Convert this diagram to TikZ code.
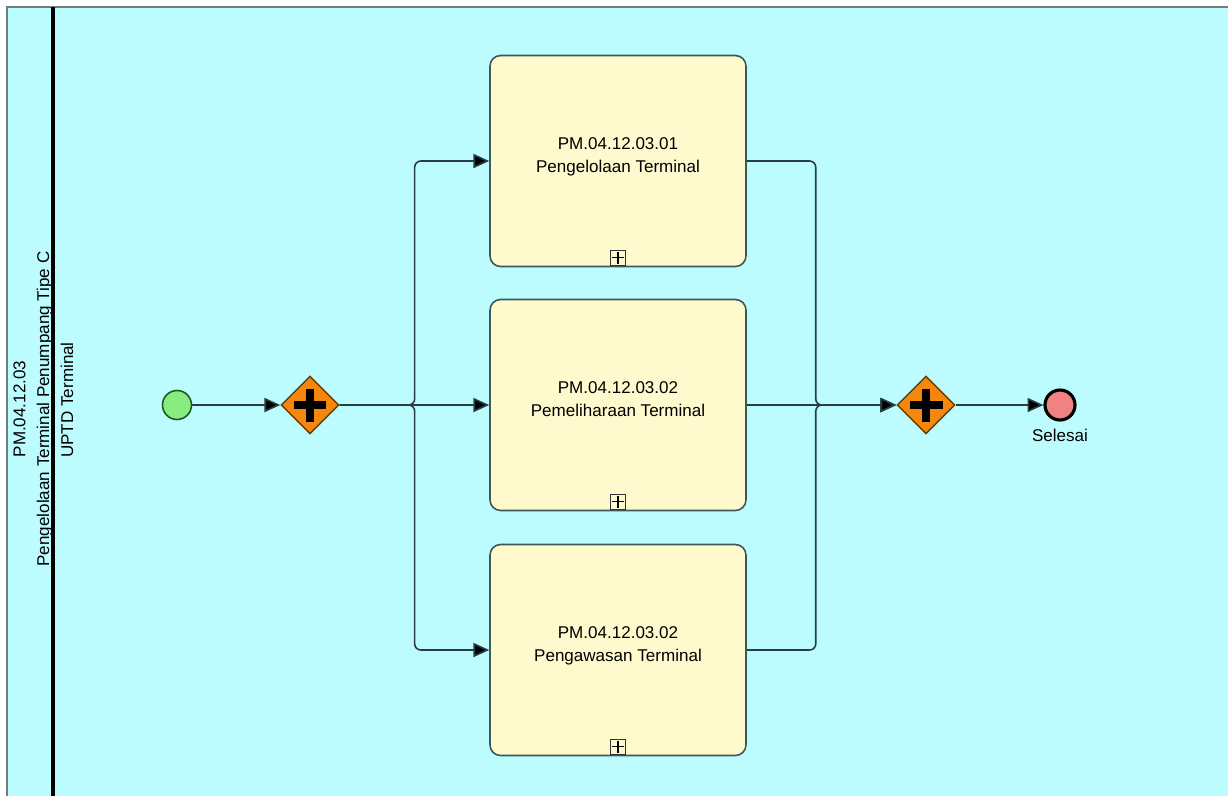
\documentclass[tikz,border=0pt]{standalone}
\usepackage{fontspec}
\setmainfont{Liberation Sans}
\usepackage{xcolor}
\usetikzlibrary{arrows.meta,positioning,shapes.geometric}

\definecolor{poolbg}{RGB}{188,252,255}
\definecolor{poolline}{RGB}{110,125,125}
\definecolor{taskfill}{RGB}{255,250,205}
\definecolor{taskline}{RGB}{62,88,88}
\definecolor{flowline}{RGB}{40,62,66}
\definecolor{gatefill}{RGB}{245,135,15}
\definecolor{gateline}{RGB}{100,62,0}
\definecolor{startfill}{RGB}{136,236,128}
\definecolor{startline}{RGB}{30,90,30}
\definecolor{endfill}{RGB}{240,130,132}

\begin{document}
\begin{tikzpicture}[
  x=0.02cm, y=-0.02cm,
  font=\fontsize{9.7}{13}\selectfont,
  task/.style={draw=taskline, fill=taskfill, line width=0.9pt, rounded corners=6pt,
    minimum width=5.12cm, minimum height=4.22cm, align=center, text depth=7pt},
  marker/.style={draw=black!80, line width=0.5pt, minimum size=0.3cm, inner sep=0pt,
    path picture={\draw[black, line width=0.6pt]
      ([xshift=-0.12cm]path picture bounding box.center) -- ([xshift=0.12cm]path picture bounding box.center)
      ([yshift=-0.12cm]path picture bounding box.center) -- ([yshift=0.12cm]path picture bounding box.center);}},
  gate/.style={diamond, draw=gateline, fill=gatefill, line width=0.8pt, minimum size=1.16cm, inner sep=0pt,
    path picture={\draw[black, line width=4.6pt]
      ([xshift=-0.33cm]path picture bounding box.center) -- ([xshift=0.33cm]path picture bounding box.center)
      ([yshift=-0.33cm]path picture bounding box.center) -- ([yshift=0.33cm]path picture bounding box.center);}},
  startev/.style={circle, draw=startline, fill=startfill, line width=0.9pt, minimum size=0.58cm, inner sep=0pt},
  endev/.style={circle, draw=black, fill=endfill, line width=1.8pt, minimum size=0.6cm, inner sep=0pt},
  flow/.style={draw=flowline, line width=0.9pt, rounded corners=3.5pt, -{Triangle[length=9pt,width=8pt,fill=black]}}
]
\useasboundingbox (0,0) rectangle (1228,796);
\fill[white] (0,0) rectangle (1228,796);
\fill[poolbg] (7,7) rectangle (1228,796);
\draw[poolline, line width=1pt] (7,796) -- (7,7) -- (1228,7);
\draw[black, line width=1.8pt] (53,7) -- (53,796);

\node[rotate=90, align=center, font=\fontsize{9.7}{13.5}\selectfont] (poolname) at (33,409) {PM.04.12.03\\Pengelolaan Terminal Penumpang Tipe C};
\node[rotate=90] (lanename) at (67,400) {UPTD Terminal};

\node[startev] (start) at (177,405) {};
\node[gate] (g1) at (310,405) {};
\node[task] (t1) at (618,161) {PM.04.12.03.01\\Pengelolaan Terminal};
\node[task] (t2) at (618,405) {PM.04.12.03.02\\Pemeliharaan Terminal};
\node[task] (t3) at (618,650) {PM.04.12.03.02\\Pengawasan Terminal};
\node[marker, above=1pt of t1.south] (m1) {};
\node[marker, above=1pt of t2.south] (m2) {};
\node[marker, above=1pt of t3.south] (m3) {};
\node[gate] (g2) at (926,405) {};
\node[endev, label={[label distance=1pt]below:Selesai}] (finish) at (1060,405) {};

\draw[flow] (start) -- (g1);
\draw[flow] (g1.east) -- ++(75,0) |- (t1.west);
\draw[flow] (g1.east) -- (t2.west);
\draw[flow] (g1.east) -- ++(75,0) |- (t3.west);
\draw[flow] (t1.east) -- ++(69,0) |- (g2.west);
\draw[flow] (t2.east) -- (g2.west);
\draw[flow] (t3.east) -- ++(69,0) |- (g2.west);
\draw[flow] (g2) -- (finish);
\end{tikzpicture}
\end{document}
